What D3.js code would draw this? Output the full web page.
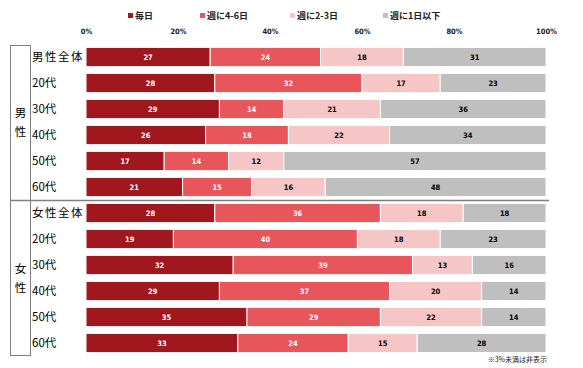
<!DOCTYPE html>
<html><head><meta charset="utf-8">
<script src="https://cdn.jsdelivr.net/npm/d3@7/dist/d3.min.js"></script>
<style>
body{margin:0;background:#fff;}
svg{display:block;font-family:"Noto Sans CJK JP","DejaVu Sans",sans-serif;}
</style></head>
<body><svg id="c" width="583" height="368"></svg>
<script>
const categories = ["男性全体","20代","30代","40代","50代","60代","女性全体","20代","30代","40代","50代","60代"];
const groups = ["男性","女性"];
const seriesNames = ["毎日","週に4-6日","週に2-3日","週に1日以下"];
const daily   = [27,28,29,26,17,21,28,19,32,29,35,33];
const w46     = [24,32,14,18,14,15,36,40,39,37,29,24];
const w23     = [18,17,21,22,12,16,18,18,13,20,22,15];
const w1less  = [31,23,36,34,57,48,18,23,16,14,14,28];
const tickValues = [0,20,40,60,80,100];
const colors = ["#a0171e","#e8565c","#f6c5c6","#bfbfbf"];
const labelColors = ["#ffffff","#ffffff","#000000","#000000"];

const svg = d3.select("#c");
const series = [daily,w46,w23,w1less];
const x = d3.scaleLinear().domain([0,100]).range([86,546]);
const y = d3.scaleBand().domain(d3.range(categories.length)).range([44,356]).paddingInner(0.26).paddingOuter(0.13);

// axis labels at top
const ax = d3.axisTop(x).tickValues(tickValues).tickFormat(d=>d+"%").tickSize(0);
const axg = svg.append("g").attr("transform","translate(0,37)").call(ax);
axg.select(".domain").remove();
axg.selectAll("text").attr("font-size",7.5).attr("font-weight","bold").attr("fill","#222")
  .attr("font-family","'DejaVu Sans Condensed','DejaVu Sans',sans-serif");

// stacked bars
const rows = categories.map((c,i)=>{
  let acc=0;
  return series.map((s,k)=>{const o={i,k,v:s[i],x0:acc,x1:acc+s[i]};acc+=s[i];return o;});
});
const g = svg.append("g");
rows.forEach(r=>{
  r.forEach(d=>{
    g.append("rect").attr("x",x(d.x0)).attr("y",y(d.i)).attr("width",x(d.x1)-x(d.x0)).attr("height",y.bandwidth())
      .attr("fill",colors[d.k]).attr("stroke","#fff").attr("stroke-width",1);
    if(d.v>=3){
      g.append("text").attr("x",(x(d.x0)+x(d.x1))/2).attr("y",y(d.i)+y.bandwidth()/2)
        .attr("dy","0.35em").attr("text-anchor","middle").attr("font-size",7.5).attr("font-weight","bold")
        .attr("font-family","'DejaVu Sans Condensed','DejaVu Sans',sans-serif")
        .attr("fill",labelColors[d.k]).text(d.v);
    }
  });
});

// category labels
svg.append("g").selectAll("text").data(categories).join("text")
  .attr("x",32).attr("y",(d,i)=>y(i)+y.bandwidth()/2).attr("dy","0.36em")
  .attr("font-size",11.5).attr("fill","#000")
  .attr("letter-spacing",(d)=>d.length>3?"1.5px":"0px")
  .text(d=>d);

// group box and separator
const lineColor="#808080";
svg.append("rect").attr("x",10.5).attr("y",45.5).attr("width",20).attr("height",310).attr("fill","none").attr("stroke",lineColor).attr("stroke-width",1);
const sepY = Math.round((y(5)+y.bandwidth()+y(6))/2)+0.5;
svg.append("line").attr("x1",10.5).attr("x2",549).attr("y1",sepY).attr("y2",sepY).attr("stroke",lineColor).attr("stroke-width",1.5);
groups.forEach((gname,gi)=>{
  const mid = (y(gi*6)+y(gi*6+5)+y.bandwidth())/2;
  const chars = gname.split("");
  chars.forEach((ch,ci)=>{
    svg.append("text").attr("x",20.5).attr("y",mid+(ci-(chars.length-1)/2)*19).attr("dy","0.36em")
      .attr("text-anchor","middle").attr("font-size",11.5).attr("fill","#000").text(ch);
  });
});

// legend
const legX = [128,200,290,383];
const lg = svg.append("g");
seriesNames.forEach((n,k)=>{
  lg.append("rect").attr("x",legX[k]).attr("y",13).attr("width",5).attr("height",5).attr("fill",colors[k]);
  lg.append("text").attr("x",legX[k]+7).attr("y",16).attr("dy","0.35em").attr("font-size",9).attr("font-weight","bold").attr("fill","#222").text(n);
});

// footnote
svg.append("text").attr("x",547).attr("y",360).attr("dy","0.35em").attr("text-anchor","end").attr("font-size",7).attr("fill","#222").text("※3%未満は非表示");
</script></body></html>
